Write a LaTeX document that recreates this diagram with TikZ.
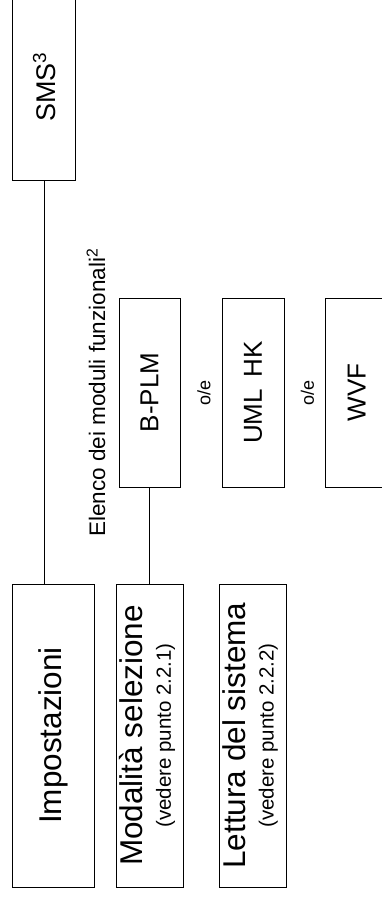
\documentclass[tikz,border=0pt]{standalone}
\usepackage{fontspec}
\setmainfont{Liberation Sans}
\usetikzlibrary{positioning}
\newcommand{\vtext}[1]{\rotatebox{90}{#1}}

\begin{document}
\begin{tikzpicture}[x=1pt,y=1pt,auto,main node/.style={rectangle,draw,line width=0.9pt,inner sep=0pt},link/.style={draw,line width=0.7pt}]

    \useasboundingbox (0,0) rectangle (382,-897);

    \node[main node,minimum width=63pt,minimum height=186pt] (sms) at (44.2,-87) {\vtext{\fontsize{27}{30}\selectfont SMS\textsuperscript{3}}};
    \node[main node,minimum width=82pt,minimum height=303pt] (impostazioni) at (53.8,-735.5) {\vtext{\fontsize{31.5}{36}\selectfont Impostazioni}};
    \node[main node,minimum width=67pt,minimum height=303pt,on grid,right=95.7pt of impostazioni] (modalita) {\vtext{\fontsize{20.5}{28}\selectfont\begin{tabular}{@{}c@{}}{\fontsize{31.5}{28}\selectfont Modalità selezione}\\(vedere punto 2.2.1)\end{tabular}}};
    \node[main node,minimum width=67pt,minimum height=303pt,on grid,right=103pt of modalita] (lettura) {\vtext{\fontsize{20.5}{28}\selectfont\begin{tabular}{@{}c@{}}{\fontsize{31.5}{28}\selectfont Lettura del sistema}\\(vedere punto 2.2.2)\end{tabular}}};
    \node[main node,minimum width=61pt,minimum height=189pt,on grid,above=343pt of modalita] (b-plm) {\vtext{\fontsize{26}{30}\selectfont B-PLM}};
    \node[main node,minimum width=62pt,minimum height=189pt,on grid,right=103.5pt of b-plm] (uml-hk) {\vtext{\fontsize{26}{30}\selectfont UML\hspace{0.45em}HK}};
    \node[main node,minimum width=62pt,minimum height=189pt,on grid,right=103.7pt of uml-hk] (wvf) {\vtext{\fontsize{26}{30}\selectfont WVF}};

    \node[on grid,right=54.5pt of b-plm] (oe-1) {\vtext{\fontsize{18}{20}\selectfont o/e}};
    \node[on grid,right=54.5pt of uml-hk] (oe-2) {\vtext{\fontsize{18}{20}\selectfont o/e}};
    \node[on grid,left=53.5pt of b-plm] (elenco) {\vtext{\fontsize{22.5}{26}\selectfont Elenco dei moduli funzionali\textsuperscript{2}}};

    \path[link] (sms.south) -- (sms.south |- impostazioni.north);
    \path[link] (b-plm.south) -- (modalita.north);

\end{tikzpicture}
\end{document}
